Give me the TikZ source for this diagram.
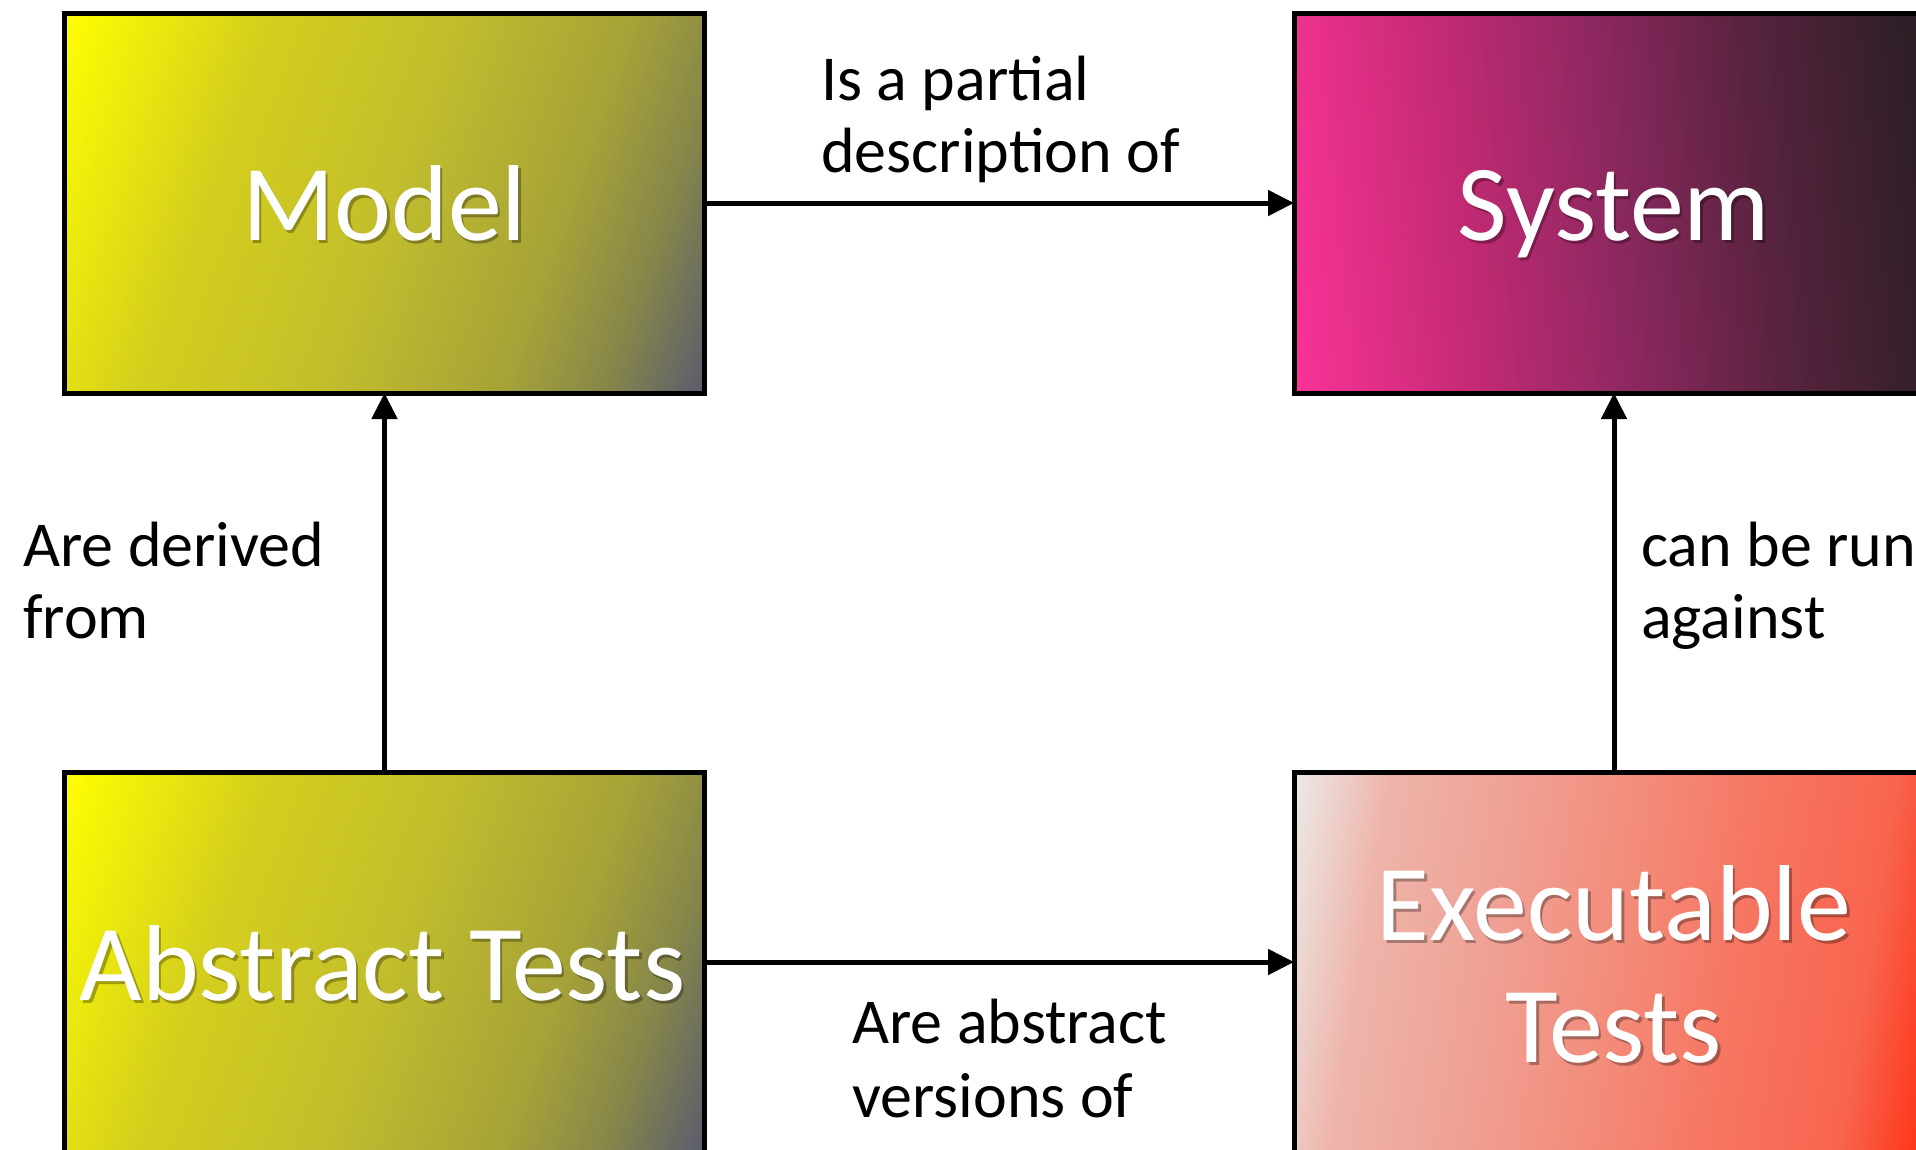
\documentclass[tikz,border=0pt]{standalone}
\usepackage{fontspec}
\setmainfont{Carlito}
\usetikzlibrary{arrows.meta}
\definecolor{yA}{RGB}{255,255,0}
\definecolor{yB}{RGB}{212,207,28}
\definecolor{yC}{RGB}{194,190,44}
\definecolor{yD}{RGB}{165,162,56}
\definecolor{yE}{RGB}{134,134,74}
\definecolor{yF}{RGB}{90,92,110}
\definecolor{sA}{RGB}{250,50,152}
\definecolor{sB}{RGB}{240,49,145}
\definecolor{sC}{RGB}{195,42,115}
\definecolor{sD}{RGB}{140,40,95}
\definecolor{sE}{RGB}{88,35,62}
\definecolor{sF}{RGB}{38,30,35}
\definecolor{eA}{RGB}{236,234,232}
\definecolor{eB}{RGB}{238,180,170}
\definecolor{eC}{RGB}{240,160,148}
\definecolor{eD}{RGB}{243,140,122}
\definecolor{eE}{RGB}{246,118,98}
\definecolor{eF}{RGB}{248,100,78}
\definecolor{eG}{RGB}{255,45,15}
\pgfdeclarehorizontalshading{yellowshade}{100bp}{color(0bp)=(yA); color(18.1bp)=(yA); color(34.7bp)=(yB); color(50bp)=(yC); color(65.3bp)=(yD); color(73.6bp)=(yE); color(81.9bp)=(yF); color(100bp)=(yF)}
\pgfdeclarehorizontalshading{pinkshade}{100bp}{color(0bp)=(sA); color(22.5bp)=(sA); color(25.1bp)=(sB); color(37.4bp)=(sC); color(50bp)=(sD); color(62.3bp)=(sE); color(77.5bp)=(sF); color(100bp)=(sF)}
\pgfdeclarehorizontalshading{redshade}{100bp}{color(0bp)=(eA); color(21.4bp)=(eA); color(29.2bp)=(eB); color(40bp)=(eC); color(50bp)=(eD); color(60bp)=(eE); color(70.8bp)=(eF); color(78.6bp)=(eG); color(100bp)=(eG)}
\tikzset{
  box/.style={draw=black, line width=5pt, minimum width=640pt, minimum height=380pt, inner sep=0pt, outer sep=0pt},
  yellowbox/.style={box, shading=yellowshade, shading angle=-19.4},
  pinkbox/.style={box, shading=pinkshade, shading angle=6},
  redbox/.style={box, shading=redshade, shading angle=-9},
  title/.style={text=white, inner sep=0pt, font=\fontsize{108}{122}\selectfont},
  tshadow/.style={text=black, opacity=0.3, inner sep=0pt, font=\fontsize{108}{122}\selectfont},
  lbl/.style={text=black, inner sep=0pt, anchor=base west, font=\fontsize{64}{72}\selectfont},
  conn/.style={line width=5pt, -{Triangle[length=26pt,width=25pt]}},
}
\begin{document}
\begin{tikzpicture}[x=1pt,y=-1pt]
\useasboundingbox (0,0) rectangle (1916,1149);
\fill[white] (0,0) rectangle (1916,1149);
\clip (0,0) rectangle (1916,1149);
% boxes
\node[yellowbox] (model) at (384.5,203) {};
\node[pinkbox] (system) at (1614,203) {};
\node[yellowbox] (abstract) at (384.5,962) {};
\node[redbox] (exec) at (1614,962) {};
% titles
\node[tshadow, anchor=base] at (387,243) {Model};
\node[title, anchor=base] (tmodel) at (384.5,240) {Model};
\node[tshadow, anchor=base] at (1616.5,243) {System};
\node[title, anchor=base] (tsystem) at (1614,240) {System};
\node[tshadow, anchor=base] at (385,1003) {Abstract Tests};
\node[title, anchor=base] (tabstract) at (382.5,1000) {Abstract Tests};
\node[tshadow, anchor=base] at (1616.5,943) {\vtop{\baselineskip=122pt\halign{\hfil#\hfil\cr Executable\cr Tests\cr}}};
\node[title, anchor=base] (texec) at (1614,940) {\vtop{\baselineskip=122pt\halign{\hfil#\hfil\cr Executable\cr Tests\cr}}};
% connectors
\draw[conn] (model.east) -- (system.west);
\draw[conn] (abstract.north) -- (model.south);
\draw[conn] (exec.north) -- (system.south);
\draw[conn] (abstract.east) -- (exec.west);
% labels
\node[lbl] (l1) at (821,100) {\vtop{\baselineskip=72pt\hbox{Is a partial}\hbox{description of}}};
\node[lbl] (l2) at (23,566) {\vtop{\baselineskip=72pt\hbox{Are derived}\hbox{from}}};
\node[lbl] (l3) at (1641,566) {\vtop{\baselineskip=72pt\hbox{can be run}\hbox{against}}};
\node[lbl] (l4) at (852,1043) {\vtop{\baselineskip=74pt\hbox{Are abstract}\hbox{versions of}}};
\end{tikzpicture}
\end{document}
